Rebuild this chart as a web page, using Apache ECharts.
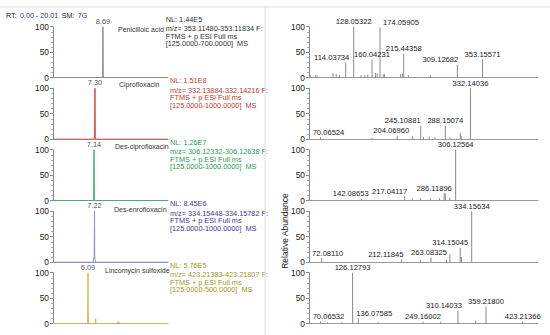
<!DOCTYPE html>
<html>
<head>
<meta charset="utf-8">
<script src="https://cdn.jsdelivr.net/npm/echarts@6/dist/echarts.min.js"></script>
<style>
html,body{margin:0;padding:0;background:#fff;}
#chart{width:550px;height:335px;}
</style>
</head>
<body>
<div id="chart"></div>
<script>
// ---------------- DATA ----------------
const compounds = ['Penicilloic acid', 'Ciprofloxacin', 'Des-ciprofloxacin', 'Des-enrofloxacin', 'Lincomycin sulfoxide'];
const peakRT = [8.69, 7.30, 7.14, 7.22, 6.09];
const nlValues = ['1.44E5', '1.51E8', '1.26E7', '8.45E6', '5.76E5'];
const mzWindows = ['353.11480-353.11834', '332.13884-332.14216', '306.12332-306.12638', '334.15448-334.15782', '423.21383-423.21807'];
const scanRanges = ['125.0000-700.0000', '125.0000-1000.0000', '125.0000-1000.0000', '125.0000-1000.0000', '125.0000-500.0000'];
const rtRange = [0, 20.01];
const mzRange = [50, 450];
const yTicks = [0, 50, 100];

// chromatograms [RT, relative abundance]
const chrom1 = [[0,0],[8.55,0],[8.63,6],[8.69,100],[8.75,5],[8.84,0],[20.01,0]];
const chrom2 = [[0,0],[7.16,0],[7.24,8],[7.30,100],[7.36,6],[7.46,0],[20.01,0]];
const chrom3 = [[0,0],[7.00,0],[7.08,6],[7.14,100],[7.20,5],[7.30,0],[20.01,0]];
const chrom4 = [[0,0],[6.95,0],[7.05,4],[7.12,9],[7.18,12],[7.22,100],[7.26,11],[7.32,5],[7.45,0],[20.01,0]];
const chrom5 = [[0,0],[5.95,0],[6.02,4],[6.06,38],[6.09,100],[6.12,28],[6.18,3],[6.30,0],[7.34,0],[7.42,10],[7.50,0],[11.0,0],[11.2,3],[11.4,4],[11.6,1],[11.8,0],[20.01,0]];

// MS/MS spectra [m/z, relative abundance]
const spec1 = [[52.0,6],[61.0,5],[64.0,5],[91.9,9],[97.6,7],[103.0,6],[114.03734,30],[128.05322,100],[141.0,5],[147.3,5],[152.6,6],[160.04231,35],[166.1,9],[169.0,8],[174.05905,99],[179.6,7],[181.9,7],[210.0,7],[213.0,8],[215.44358,47],[224.0,5],[262.0,5],[309.12682,25],[353.15571,36]];
const spec2 = [[70.06524,4],[160.0,3],[204.0696,7],[231.0,6],[245.10881,26],[250.0,5],[260.0,5],[270.0,4],[288.15074,26],[296.0,4],[314.13,12],[316.0,6],[332.14036,100]];
const spec3 = [[142.08653,4],[217.04117,8],[231.0,4],[245.0,5],[262.0,4],[278.0,5],[286.11896,15],[288.13,14],[296.0,6],[306.12564,100]];
const spec4 = [[72.0811,8],[212.11845,6],[245.0,4],[263.08325,9],[290.0,5],[296.14,16],[314.15045,28],[316.2,10],[334.15634,100]];
const spec5 = [[70.06532,5],[82.0,3],[108.0,3],[126.12793,100],[136.07585,10],[170.0,3],[249.16002,4],[280.0,4],[310.14033,25],[341.2,6],[359.218,33],[423.21366,4]];
const labels1 = [114.03734, 128.05322, 160.04231, 174.05905, 215.44358, 309.12682, 353.15571];
const labels2 = [70.06524, 204.0696, 245.10881, 288.15074, 332.14036];
const labels3 = [142.08653, 217.04117, 286.11896, 306.12564];
const labels4 = [72.0811, 212.11845, 263.08325, 314.15045, 334.15634];
const labels5 = [70.06532, 126.12793, 136.07585, 249.16002, 310.14033, 359.218, 423.21366];

// ---------------- LAYOUT / STYLE ----------------
const chroms = [chrom1, chrom2, chrom3, chrom4, chrom5];
const specs = [spec1, spec2, spec3, spec4, spec5];
const specLabels = [labels1, labels2, labels3, labels4, labels5];
// horizontal label shifts (px) to avoid overlaps, same order as labels arrays
const labelShift = [
  [-14, 0, 0, 21, 0, -17, 0],
  [8, -6, -18, 0, 0],
  [-11, -15, -10, 0],
  [6, -16, -2, -10, 0],
  [8, 0, 16, 0, -14, 0, 0]
];
const traceColors = ['#8c8c8c', '#d9473f', '#3cae6c', '#8b8bd6', '#c8c05a'];
const textColors = ['#333333', '#c0392b', '#27a050', '#3a3a98', '#a09a1e'];
const nameX = [118, 119, 115, 114, 105];
const nameDy = [3.3, -3.2, -3, -1.5, -1.7];
const nlX = [165.7, 170, 170, 170, 170];
const nlDy = [-6.8, 2.5, 10.2, 17.7];
const FONT = 'Liberation Sans, Arial, sans-serif';
const top0 = 26.7, step = 61.5, panelH = 51;
const leftX = 53, leftW = 115, rightX = 309, rightW = 229;

const grid = [], xAxis = [], yAxis = [], series = [], graphic = [];

function yAxisCfg(gi) {
  return {
    type: 'value', gridIndex: gi, min: yTicks[0], max: yTicks[2], interval: yTicks[1],
    axisLine: { show: true, lineStyle: { color: '#8a8a8a', width: 1 } },
    axisTick: { show: true, length: 3, lineStyle: { color: '#8a8a8a' } },
    minorTick: { show: true, splitNumber: 5, length: 2, lineStyle: { color: '#aaa' } },
    splitLine: { show: false },
    axisLabel: { fontSize: 8.4, margin: 4, color: '#222', fontFamily: FONT }
  };
}
function xAxisCfg(gi, range) {
  return {
    type: 'value', gridIndex: gi, min: range[0], max: range[1],
    axisLine: { show: true, onZero: false, lineStyle: { color: '#9a9a9a', width: 1 } },
    axisTick: { show: false }, axisLabel: { show: false }, splitLine: { show: false }
  };
}

for (let i = 0; i < 5; i++) {
  const top = top0 + i * step;
  // left chromatogram
  const gl = grid.length;
  grid.push({ left: leftX, top: top, width: leftW, height: panelH });
  xAxis.push(xAxisCfg(gl, rtRange));
  yAxis.push(yAxisCfg(gl));
  series.push({
    type: 'line', xAxisIndex: gl, yAxisIndex: gl, data: chroms[i],
    showSymbol: false, silent: true, animation: false,
    lineStyle: { color: traceColors[i], width: 1 }
  });
  series.push({
    type: 'scatter', xAxisIndex: gl, yAxisIndex: gl, animation: false, silent: true,
    data: [[peakRT[i], 100]], symbolSize: 1, itemStyle: { color: 'rgba(0,0,0,0)' },
    label: { show: true, position: 'top', distance: 1.5, formatter: peakRT[i].toFixed(2),
             fontSize: 7.4, color: '#222', fontFamily: FONT }
  });
  // right spectrum
  const gr = grid.length;
  grid.push({ left: rightX, top: top, width: rightW, height: panelH });
  xAxis.push(xAxisCfg(gr, mzRange));
  yAxis.push(yAxisCfg(gr));
  const labs = specLabels[i];
  const data = specs[i].map(p => {
    const k = labs.indexOf(p[0]);
    if (k < 0) return { value: p };
    return {
      value: p,
      label: { show: true, position: 'top', distance: 1, offset: [labelShift[i][k], 0],
               formatter: p[0].toFixed(5), fontSize: 7.6, color: '#222', fontFamily: FONT }
    };
  });
  series.push({
    type: 'bar', xAxisIndex: gr, yAxisIndex: gr, data: data, barWidth: 1,
    animation: false, itemStyle: { color: '#8a8a8a' }, label: { show: false }
  });

  // compound name
  graphic.push({ type: 'text', left: nameX[i], top: top + nameDy[i] - 4,
    style: { text: compounds[i], fontSize: 7, fill: '#333', fontFamily: FONT } });
  // NL block
  const lines = ['NL: ' + nlValues[i], 'm/z= ' + mzWindows[i] + ' F:', 'FTMS + p ESI Full ms', '[' + scanRanges[i] + ']  MS'];
  lines.forEach((t, k) => {
    graphic.push({ type: 'text', left: nlX[i], top: top + nlDy[k] - 4.2,
      style: { text: t, fontSize: 7.3, fill: textColors[i], fontFamily: FONT } });
  });
}

// frame lines and header
graphic.push({ type: 'line', shape: { x1: 0, y1: 7, x2: 550, y2: 7 }, style: { stroke: '#dcdcdc', lineWidth: 1 } });
graphic.push({ type: 'line', shape: { x1: 265, y1: 7, x2: 265, y2: 335 }, style: { stroke: '#dcdcdc', lineWidth: 1 } });
graphic.push({ type: 'text', left: 6, top: 9,
  style: { text: '{k|RT:} {v|0.00 - 20.01} {k|SM:} {v|7G}', fontFamily: FONT,
    rich: { k: { fontSize: 7.2, fill: '#222', fontFamily: FONT }, v: { fontSize: 7.2, fill: '#2b3a9a', fontFamily: FONT } } } });
graphic.push({ type: 'text', x: 285, y: 231, rotation: Math.PI / 2,
  style: { text: 'Relative Abundance', fontSize: 8.5, fill: '#222', fontFamily: FONT, align: 'center', verticalAlign: 'middle' } });

const chart = echarts.init(document.getElementById('chart'), null, { renderer: 'svg' });
chart.setOption({ animation: false, backgroundColor: '#fff', grid, xAxis, yAxis, series, graphic });
</script>
</body>
</html>
